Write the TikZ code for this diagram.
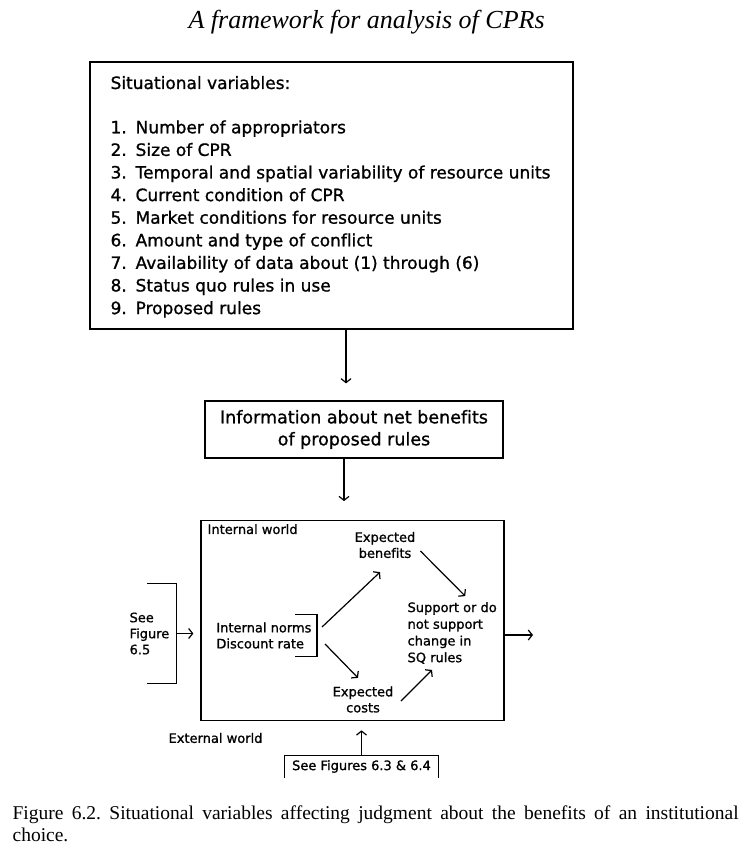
\documentclass[tikz,border=0pt]{standalone}
\usepackage{fontspec}
\setmainfont{Liberation Serif}
\newfontfamily\chicago[Ligatures=NoCommon, FakeBold=1]{DejaVu Sans}
\usetikzlibrary{arrows.meta,calc}

\begin{document}
\frenchspacing
\begin{tikzpicture}[x={(1pt,0)}, y={(0,-1pt)}, line width=1.2pt, >={Straight Barb[length=4pt,width=10pt]}]
            \tikzstyle{box} = [draw, inner sep=0];
            \tikzstyle{item} = [inner sep=0, anchor=base west, font=\chicago\fontsize{17}{20}\selectfont];
            \tikzstyle{small} = [inner sep=0, align=left, font=\chicago\fontsize{13}{16}\selectfont];
            \useasboundingbox (0,0) rectangle (745,853);
            \fill[white] (0,0) rectangle (745,853);
            \node[inner sep=0, anchor=base west, font=\itshape\fontsize{26}{30}\selectfont] (title) at (188,29) {A framework for analysis of CPRs};
            \node[box, minimum width=483, minimum height=267] (vars) at (331.5,195.5) {};
            \node[item] (head) at (110,89) {Situational variables:};
            \foreach \t [count=\i] in {Number of appropriators, Size of CPR,
                Temporal and spatial variability of resource units,
                Current condition of CPR, Market conditions for resource units,
                Amount and type of conflict, Availability of data about (1) through (6),
                Status quo rules in use, Proposed rules}
            {
            \node[item] (num\i) at (110, 110.7+22.6*\i) {\i.};
            \node[item] (var\i) at (135, 110.7+22.6*\i) {\t};}
            \node[box, minimum width=298, minimum height=57, align=center, font=\chicago\fontsize{17.5}{22}\selectfont] (info) at (354,429.5) {Information about net benefits\\of proposed rules};
            \draw[->, shorten >=17pt] ([xshift=14.5pt]vars.south) coordinate (a1) -- (a1 |- info.north);
            \node[box, minimum width=303, minimum height=200] (world) at (352.5,620.7) {};
            \draw[->, shorten >=19pt] ([xshift=-10pt]info.south) coordinate (a2) -- (a2 |- world.north);
            \node[small, anchor=north west] (inw) at (207,523.5) {Internal world};
            \node[small, align=center] (eb) at (385,545) {Expected\\benefits};
            \node[small, minimum height=41, inner xsep=5pt, anchor=east] (norms) at (317,635.5) {Internal norms\\Discount rate};
            \draw ([xshift=-22pt]norms.north east) -- (norms.north east) -- (norms.south east) -- ([xshift=-22pt]norms.south east);
            \node[small, align=center] (ec) at (363,699.5) {Expected\\costs};
            \node[small, anchor=west, font=\chicago\fontsize{13}{16.7}\selectfont] (sq) at (407,633) {Support or do\\not support\\change in\\SQ rules};
            \draw[->] ($(norms.east)+(5,-8.5)$) -- ($(eb.south)+(-5,13.5)$);
            \draw[->] ($(norms.east)+(8,8.5)$) -- ($(ec.north)+(-5,-8)$);
            \draw[->] ($(eb.east)+(4.5,6)$) -- ($(sq.north)+(13,-5.5)$);
            \draw[->] ($(ec.east)+(7,1.5)$) -- ($(sq.south west)+(25,5.5)$);
            \coordinate (out) at (533,635);
            \draw[->] (out -| world.east) -- (out);
            \node[small, anchor=west] (seel) at (129,633.5) {See\\Figure\\6.5};
            \node[minimum width=28, minimum height=99, inner sep=0] (lbr) at (162,633.5) {};
            \draw (lbr.north west) -- (lbr.north east) -- (lbr.south east) -- (lbr.south west);
            \draw[->, shorten >=7pt] (lbr.east) -- (lbr.east -| world.west);
            \node[small, anchor=west] (exw) at (168,738) {External world};
            \node[small, minimum width=153, minimum height=21] (seeb) at (361.5,766.5) {See Figures 6.3 \& 6.4};
            \draw (seeb.south west) -- (seeb.north west) -- (seeb.north east) -- (seeb.south east);
            \draw[->, shorten >=9pt] (seeb.north) -- (seeb.north |- world.south);
            \node[inner sep=0, anchor=base west, align=left, font=\fontsize{19.5}{22.7}\selectfont] (cap) at (12,841.7) {\hbox to 726pt{Figure 6.2. Situational variables affecting judgment about the benefits of an institutional}\\choice.};
        \end{tikzpicture}
\end{document}
